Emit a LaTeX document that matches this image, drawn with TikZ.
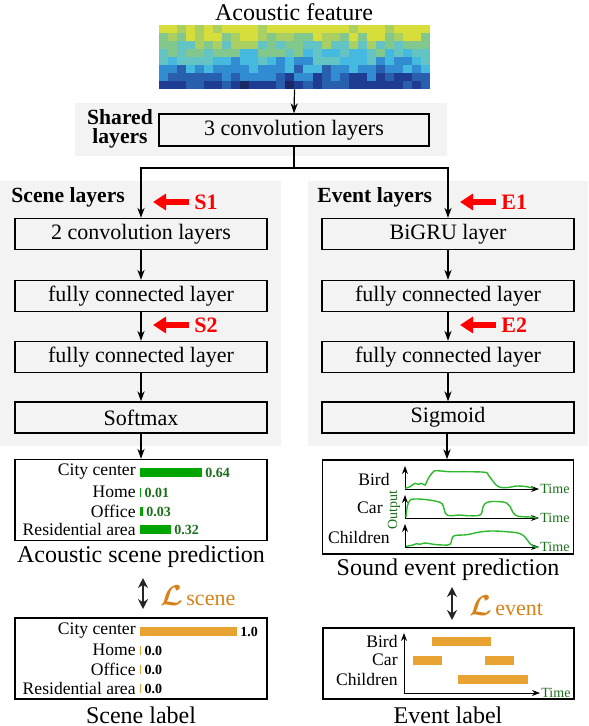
\documentclass[tikz,border=0pt]{standalone}
\usepackage{fontspec}
\setmainfont{Liberation Serif}
\usepackage{amsmath,amsbsy}
\usetikzlibrary{arrows.meta}
\definecolor{bggray}{RGB}{243,243,243}
\definecolor{bargreen}{RGB}{0,165,0}
\definecolor{valgreen}{RGB}{25,110,25}
\definecolor{curvegreen}{RGB}{45,185,45}
\definecolor{barorange}{RGB}{232,163,50}
\definecolor{lossorange}{RGB}{215,130,25}
\definecolor{spec0}{RGB}{215,222,60}
\definecolor{spec1}{RGB}{170,208,100}
\definecolor{spec2}{RGB}{130,200,140}
\definecolor{spec3}{RGB}{100,195,195}
\definecolor{spec4}{RGB}{70,185,225}
\definecolor{spec5}{RGB}{50,140,210}
\definecolor{spec6}{RGB}{40,95,175}
\definecolor{spec7}{RGB}{30,60,145}
\definecolor{spec8}{RGB}{25,40,100}
\newcommand{\fs}[1]{\fontsize{#1}{#1}\selectfont}
\newcommand{\loss}[1]{{\fs{14}$\boldsymbol{\mathcal{L}}$}\,{\fs{11}#1}}

\tikzset{
  layer/.style={draw,line width=0.7pt,minimum width=126pt,minimum height=15.5pt,inner sep=0pt,font=\fs{11}},
  outbox/.style={draw,line width=0.7pt,fill=white,inner sep=0pt},
  flow/.style={-{Stealth[length=5pt,width=3.6pt]},line width=0.6pt},
  redarrow/.style={-{Triangle[length=6.5pt,width=8pt]},line width=3pt,red},
  marker/.style={font=\bfseries\fs{11},text=red,inner sep=1pt,anchor=west},
  heading/.style={font=\bfseries\fs{10.8},inner sep=0pt,anchor=west},
  caption/.style={font=\fs{12},inner sep=0pt},
  small/.style={font=\fs{8.8},inner sep=0pt},
  val/.style={font=\bfseries\fs{7},inner sep=0pt,anchor=west},
  axis/.style={-{Stealth[length=4pt,width=3pt]},line width=0.5pt},
  timelbl/.style={font=\fs{7},text=valgreen,inner sep=0pt,anchor=west},
  curve/.style={curvegreen,line width=0.7pt,smooth,tension=0.6},
  lossarrow/.style={{Stealth[length=5pt,width=5pt]}-{Stealth[length=5pt,width=5pt]},line width=1.4pt,black!85},
}

\begin{document}
\begin{tikzpicture}[x=0.5pt,y=-0.5pt]
  \useasboundingbox (0,0) rectangle (588,726);
  % gray backgrounds
  \fill[bggray] (75,103) rectangle (447,156);
  \fill[bggray] (0,181) rectangle (281,446);
  \fill[bggray] (308,181) rectangle (588,446);

  % acoustic feature
  \node[caption] (title) at (294,12) {Acoustic feature};
  \pgfmathsetseed{11}
  \foreach \c in {0,...,29}
    \foreach \r in {0,...,7} {
      \pgfmathtruncatemacro\lv{min(8,max(0,\r+round(2.4*rnd-1.2)))}
      \fill[spec\lv] (159+\c*9.03,25+\r*8) rectangle ++(9.1,8.1);
    }
  \node[minimum width=135.5pt,minimum height=32pt,inner sep=0pt] (feat) at (294.5,57) {};

  % shared layers
  \node[layer,minimum width=135pt,minimum height=16pt] (shared) at (294,130) {3 convolution layers};
  \node[font=\bfseries\fs{10.8}\linespread{0.9}\selectfont,align=center,inner sep=0pt] (sharedlbl) at (120,129) {Shared\\layers};
  \draw[flow] (feat.south) -- (shared.north);

  % scene branch
  \node[heading] (scenelbl) at (11,197) {Scene layers};
  \node[layer] (sc1) at (141,234) {2 convolution layers};
  \node[layer] (sc2) at (141,296) {fully connected layer};
  \node[layer] (sc3) at (141,357) {fully connected layer};
  \node[layer] (sc4) at (141,417.5) {Softmax};

  % event branch
  \node[heading] (eventlbl) at (317,197) {Event layers};
  \node[layer] (ev1) at (448,234) {BiGRU layer};
  \node[layer] (ev2) at (448,296) {fully connected layer};
  \node[layer] (ev3) at (448,357) {fully connected layer};
  \node[layer] (ev4) at (448,417.5) {Sigmoid};

  \coordinate (split) at (294,168);
  \draw[line width=0.6pt] (shared.south) -- (split);
  \draw[flow] (split) -| (sc1.north);
  \draw[flow] (split) -| (ev1.north);
  \foreach \a/\b in {sc1/sc2,sc2/sc3,sc3/sc4,ev1/ev2,ev2/ev3,ev3/ev4}
    \draw[flow] (\a.south) -- (\b.north);

  % red markers
  \node[marker] (s1) at (192,202) {S1};
  \node[marker] (s2) at (192,325) {S2};
  \node[marker] (e1) at (499,202) {E1};
  \node[marker] (e2) at (499,325) {E2};
  \foreach \m in {s1,s2,e1,e2}
    \draw[redarrow] ([xshift=-1.5pt]\m.west) -- ++(-36,0);

  % scene prediction
  \node[outbox,minimum width=126pt,minimum height=40.5pt] (scpred) at (141,500) {};
  \foreach \name/\v/\y in {City center/0.64/472,Home/0.01/492,Office/0.03/511,Residential area/0.32/529} {
    \pgfmathsetmacro\w{max(\v*97,1.2)}
    \node[small,anchor=east] at (136,\y) {\name};
    \fill[bargreen] (140,\y-4.5) rectangle ++(\w,9);
    \node[val,text=valgreen] at (143+\w,\y+1) {\v};
  }
  \node[caption] (sccap) at (141,557) {Acoustic scene prediction};

  % scene label
  \node[outbox,minimum width=126pt,minimum height=40.5pt] (sclab) at (141,658.5) {};
  \foreach \name/\v/\y in {City center/1.0/631,Home/0.0/650,Office/0.0/669,Residential area/0.0/688} {
    \pgfmathsetmacro\w{max(\v*97,1.2)}
    \node[small,anchor=east] at (136,\y) {\name};
    \fill[barorange] (140,\y-4.5) rectangle ++(\w,9);
    \node[val] at (143+\w,\y+1) {\v};
  }
  \node[caption] (sclabcap) at (141,715) {Scene label};

  % scene loss
  \coordinate (sctop) at (143,578);
  \coordinate (scbot) at (143,609);
  \draw[lossarrow] (sctop) -- (scbot);
  \node[text=lossorange,anchor=west,inner sep=0pt] (scloss) at (160,596) {\loss{scene}};

  % event prediction
  \node[outbox,minimum width=125.5pt,minimum height=47pt] (evpred) at (448,507) {};
  \foreach \name/\lx/\ay in {Bird/390/489,Car/383/518,Children/390/547} {
    \draw[axis] (405,\ay) -- (405,\ay-23);
    \draw[axis] (405,\ay) -- (539,\ay);
    \node[timelbl] at (540,\ay) {Time};
    \node[small,anchor=east] at (\lx,\ay-10) {\name};
  }
  \node[font=\fs{7},text=valgreen,rotate=90,inner sep=0pt] (outlbl) at (394,510) {Output};
  \draw[curve] plot coordinates {(405,488.3) (410,486.7) (415,483.3) (418.3,484.3) (421.7,483.3) (425,485) (428.3,478.3) (433.3,471.7) (436.7,470.7) (450,471.7) (466.7,471.7) (485,472.3) (488.3,475) (493.3,481.7) (498.3,486.7) (506.7,487.7) (516.7,486) (526.7,486.7) (533.3,488.3)};
  \draw[curve] plot coordinates {(406,517) (407.3,506.3) (410,500.3) (415,499) (426.7,499.7) (440,502.3) (443.3,506.3) (445.7,513.7) (450,515.7) (460,515) (466.7,515.7) (480,515) (482.7,508) (485,503.7) (490,501.7) (500,501.7) (506.7,503) (510,506.3) (513.3,513) (518.3,516.3) (530,517) (536.7,518)};
  \draw[curve] plot coordinates {(406,546.3) (411.7,545.3) (416.7,543.7) (420,544.3) (425,543) (433.3,544.3) (443.3,545) (450,544.3) (452.7,537) (456.7,535.3) (466.7,534.7) (480,532) (493.3,531) (513.3,532.3) (520,533.7) (525,537) (530,543.7) (533.3,546.3) (538.3,547.7)};
  \node[caption] (evcap) at (448,570) {Sound event prediction};

  % event label
  \node[outbox,minimum width=125.5pt,minimum height=35.5pt] (evlab) at (448.5,663.5) {};
  \draw[axis] (404,693) -- (404,633);
  \draw[axis] (404,693) -- (540,693);
  \node[timelbl] (evtime) at (541,693) {Time};
  \foreach \name/\ly in {Bird/641,Car/660,Children/679}
    \node[small,anchor=east] at (398,\ly) {\name};
  \fill[barorange] (432,636.5) rectangle (491,645.5);
  \fill[barorange] (413,655.5) rectangle (442,664.5);
  \fill[barorange] (485,655.5) rectangle (514,664.5);
  \fill[barorange] (458,674.5) rectangle (528,683.5);
  \node[caption] (evlabcap) at (448,715) {Event label};

  % event loss
  \coordinate (evtop) at (452,587);
  \coordinate (evbot) at (452,620);
  \draw[lossarrow] (evtop) -- (evbot);
  \node[text=lossorange,anchor=west,inner sep=0pt] (evloss) at (469,606) {\loss{event}};

  % outputs
  \draw[flow] (sc4.south) -- (scpred.north);
  \draw[flow,line width=0.9pt,black] ([xshift=-0.5pt]ev4.south) -- ([xshift=-0.5pt]evpred.north);
\end{tikzpicture}
\end{document}
